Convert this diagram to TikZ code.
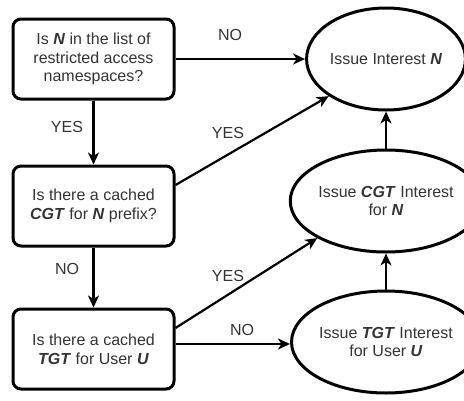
\documentclass[tikz,border=0pt]{standalone}
\usepackage{fontspec}
\setmainfont{Liberation Sans}
\usetikzlibrary{shapes.geometric}
\usetikzlibrary{arrows.meta}
\newcommand{\bi}[1]{\textbf{\textit{#1}}}

\begin{document}
\begin{tikzpicture}[x=1pt, y=-1pt,
    font=\fontsize{16}{18.7}\selectfont, text=black!80,
    decision/.style={draw=black, line width=3pt, rounded corners=8pt,
        minimum width=161pt, minimum height=80pt, align=center, inner sep=2pt},
    action/.style={draw=black, ellipse, line width=3pt,
        minimum width=152pt, minimum height=102pt, align=center, inner sep=0pt},
    flow/.style={draw=black, line width=2.2pt, -{Stealth[length=12pt, width=11pt, inset=3.5pt]}}]
        \useasboundingbox (0,0) rectangle (464,400);

        % decisions on the left
        \node[decision] (qns)  at (93.5,59)  {Is \bi{N} in the list of\\restricted access\\namespaces?};
        \node[decision] (qcgt) at (93.5,206) {Is there a cached\\\bi{CGT} for \bi{N} prefix?};
        \node[decision] (qtgt) at (93.5,349) {Is there a cached\\\bi{TGT} for User \bi{U}};

        % actions on the right
        \node[action] (issue)    at (386,59)  {Issue Interest \bi{N}};
        \node[action] (issuecgt) at (386,201) {Issue \bi{CGT} Interest\\for \bi{N}};
        \node[action] (issuetgt) at (386,342) {Issue \bi{TGT} Interest\\for User \bi{U}};

        % down the left column
        \draw[flow] (qns) -- (qcgt);
        \draw[flow] (qcgt) -- (qtgt);
        \node (lyes1) at (67,127) {YES};
        \node (lno1)  at (67,269) {NO};

        % across to the actions
        \draw[flow] (qns) -- (issue);
        \node (lno2) at (230,35) {NO};
        \draw[flow] ([yshift=21pt]qcgt.east) -- (issue.south west);
        \node (lyes2) at (228,133) {YES};
        \draw[flow] ([yshift=21pt]qtgt.east) -- (issuecgt.south west);
        \node (lyes3) at (228,276) {YES};
        \draw[flow] ([yshift=5pt]qtgt.east) -- ([yshift=-2pt]issuetgt.west);
        \node (lno3) at (242,330) {NO};

        % up the right column
        \draw[flow] (issuetgt) -- (issuecgt);
        \draw[flow] (issuecgt) -- (issue);

    \end{tikzpicture}
\end{document}
